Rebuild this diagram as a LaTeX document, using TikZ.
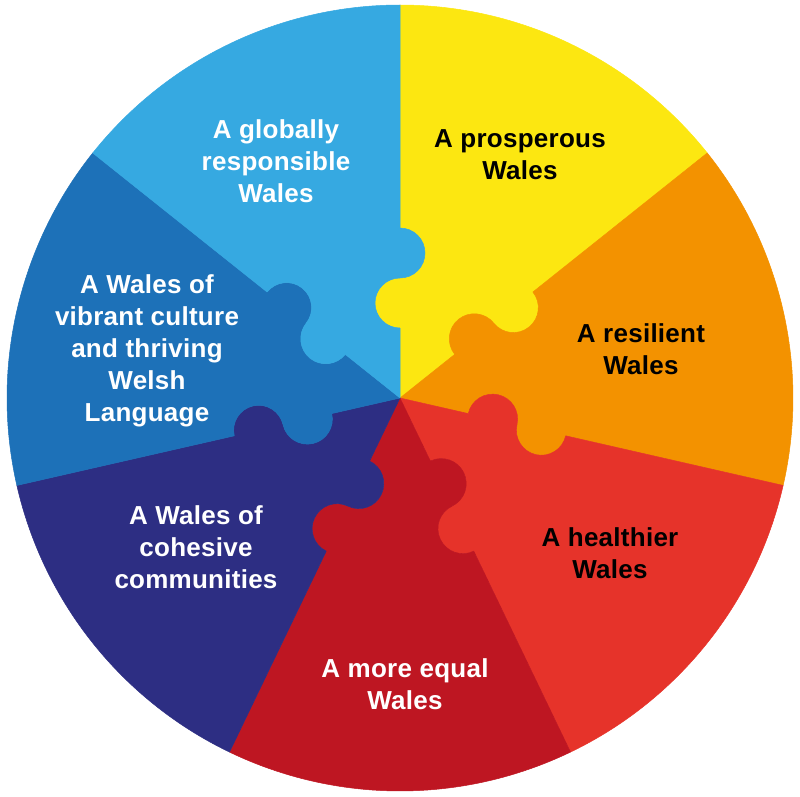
\documentclass[tikz,border=0pt]{standalone}
\usepackage{fontspec}
\setmainfont{Liberation Sans}
\definecolor{wyellow}{HTML}{FCE711}
\definecolor{worange}{HTML}{F39200}
\definecolor{wred}{HTML}{E6332A}
\definecolor{wdarkred}{HTML}{BE1622}
\definecolor{wnavy}{HTML}{2D2E83}
\definecolor{wblue}{HTML}{1D71B8}
\definecolor{wlightblue}{HTML}{36A9E1}
% #1 cw boundary angle, #2 ccw boundary angle, #3 colour
\newcommand\wsector[3]{%
  \fill[#3, draw=#3, line width=0.5pt, line join=round]
    (0,0) -- (#1:70pt)
    arc[start angle=#1+180, end angle=#1, radius=25pt]
    arc[start angle=#1+180, end angle=#1+360, radius=25pt]
    -- (#1:393pt)
    arc[start angle=#1, end angle=#2, radius=393pt]
    -- (#2:170pt)
    arc[start angle=#2, end angle=#2-180, radius=25pt]
    arc[start angle=#2, end angle=#2+180, radius=25pt]
    -- (0,0) -- cycle;}
\tikzset{
  goal/.style={anchor=base, inner sep=0pt,
    font=\bfseries\fontsize{26}{32}\selectfont\addfontfeatures{LetterSpace=1}},
  darktext/.style={goal, text=black},
  lighttext/.style={goal, text=white}
}
\newcommand\lines[1]{\begin{tabular}[t]{@{}c@{}}#1\end{tabular}}
\begin{document}
\begin{tikzpicture}
\useasboundingbox (-400pt,-398pt) rectangle (400pt,398pt);
\wsector{38.5714}{90}{wyellow}
\wsector{-12.8571}{38.5714}{worange}
\wsector{-64.2857}{-12.8571}{wred}
\wsector{-115.7143}{-64.2857}{wdarkred}
\wsector{-167.1429}{-115.7143}{wnavy}
\wsector{-218.5714}{-167.1429}{wblue}
\wsector{-270}{-218.5714}{wlightblue}

\node[darktext] (prosperous) at (120pt,251pt) {\lines{A prosperous\\Wales}};
\node[darktext] (resilient) at (241pt,56pt) {\lines{A resilient\\Wales}};
\node[darktext] (healthier) at (210pt,-148pt) {\lines{A healthier\\Wales}};
\node[lighttext] (equal) at (5pt,-279pt) {\lines{A more equal\\Wales}};
\node[lighttext] (cohesive) at (-204pt,-126pt) {\lines{A Wales of\\cohesive\\communities}};
\node[lighttext] (culture) at (-253pt,105pt) {\lines{A Wales of\\vibrant culture\\and thriving\\Welsh\\Language}};
\node[lighttext] (global) at (-124pt,260pt) {\lines{A globally\\responsible\\Wales}};
\end{tikzpicture}
\end{document}
